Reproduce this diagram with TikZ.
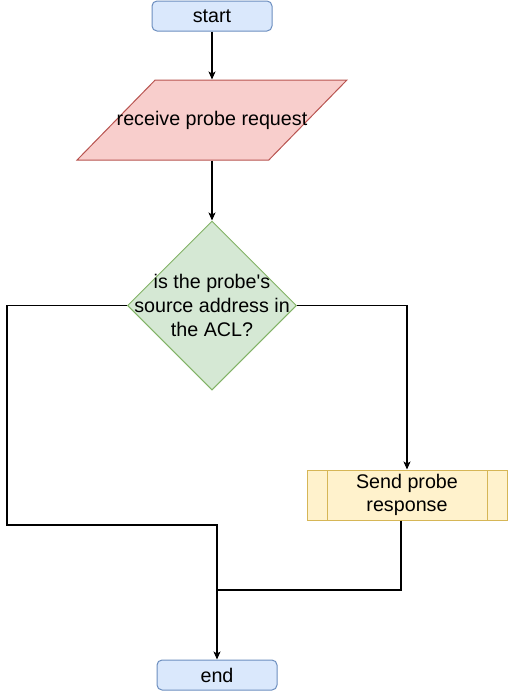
\documentclass[tikz,border=0pt]{standalone}
\usepackage{fontspec}
\setmainfont{Liberation Sans}
\usetikzlibrary{shapes.geometric,arrows.meta}

\definecolor{termfill}{HTML}{DAE8FC}
\definecolor{termdraw}{HTML}{6C8EBF}
\definecolor{iofill}{HTML}{F8CECC}
\definecolor{iodraw}{HTML}{B85450}
\definecolor{decfill}{HTML}{D5E8D4}
\definecolor{decdraw}{HTML}{82B366}
\definecolor{procfill}{HTML}{FFF2CC}
\definecolor{procdraw}{HTML}{D6B656}

\tikzset{
  terminal/.style={draw=termdraw, fill=termfill, rounded corners=5pt, minimum width=120pt, minimum height=30pt, inner sep=0pt},
  inout/.style={trapezium, trapezium left angle=55.5, trapezium right angle=124.5, trapezium stretches=true,
    draw=iodraw, fill=iofill, minimum width=270pt, minimum height=80pt, inner sep=2pt},
  decision/.style={diamond, aspect=1, draw=decdraw, fill=decfill, minimum width=169pt, minimum height=169pt, inner sep=0pt},
  subproc/.style={draw=procdraw, fill=procfill, minimum width=200pt, minimum height=50pt, align=center, inner sep=0pt,
    path picture={
      \draw[procdraw] ([xshift=20pt]path picture bounding box.north west) -- ([xshift=20pt]path picture bounding box.south west);
      \draw[procdraw] ([xshift=-20pt]path picture bounding box.north east) -- ([xshift=-20pt]path picture bounding box.south east);}},
  flow/.style={line width=1.1pt, -{Stealth[length=8pt,width=7pt,inset=2pt]}},
}

\begin{document}
\begin{tikzpicture}[x=1pt, y=-1pt, line width=1pt, font=\fontsize{19.7}{23.7}\selectfont]
    \useasboundingbox (0,0) rectangle (508,691);

    % Shapes
    \node[terminal] (start) at (212,16) {start};
    \node[inout, label={center:receive probe request}] (recv) at (212,120) {};
    \node[decision, label={[align=center]center:is the probe\textquotesingle s\\source address in\\the ACL?}] (acl) at (212,305.5) {};
    \node[subproc] (send) at (407,495) {Send probe\\response};
    \node[terminal] (end) at (217,675) {end};

    % Bends
    \coordinate (lbend) at (7,525);
    \coordinate (join) at (217,590);

    % Connectors
    \draw[flow] (start) -- (recv);
    \draw[flow] (recv) -- (acl);
    \draw[flow] (acl.west) -| (lbend) -| (end.north);
    \draw[flow] (acl.east) -| (send.north);
    \draw[line width=1.1pt] ([xshift=-6pt]send.south) |- (join);
\end{tikzpicture}
\end{document}
